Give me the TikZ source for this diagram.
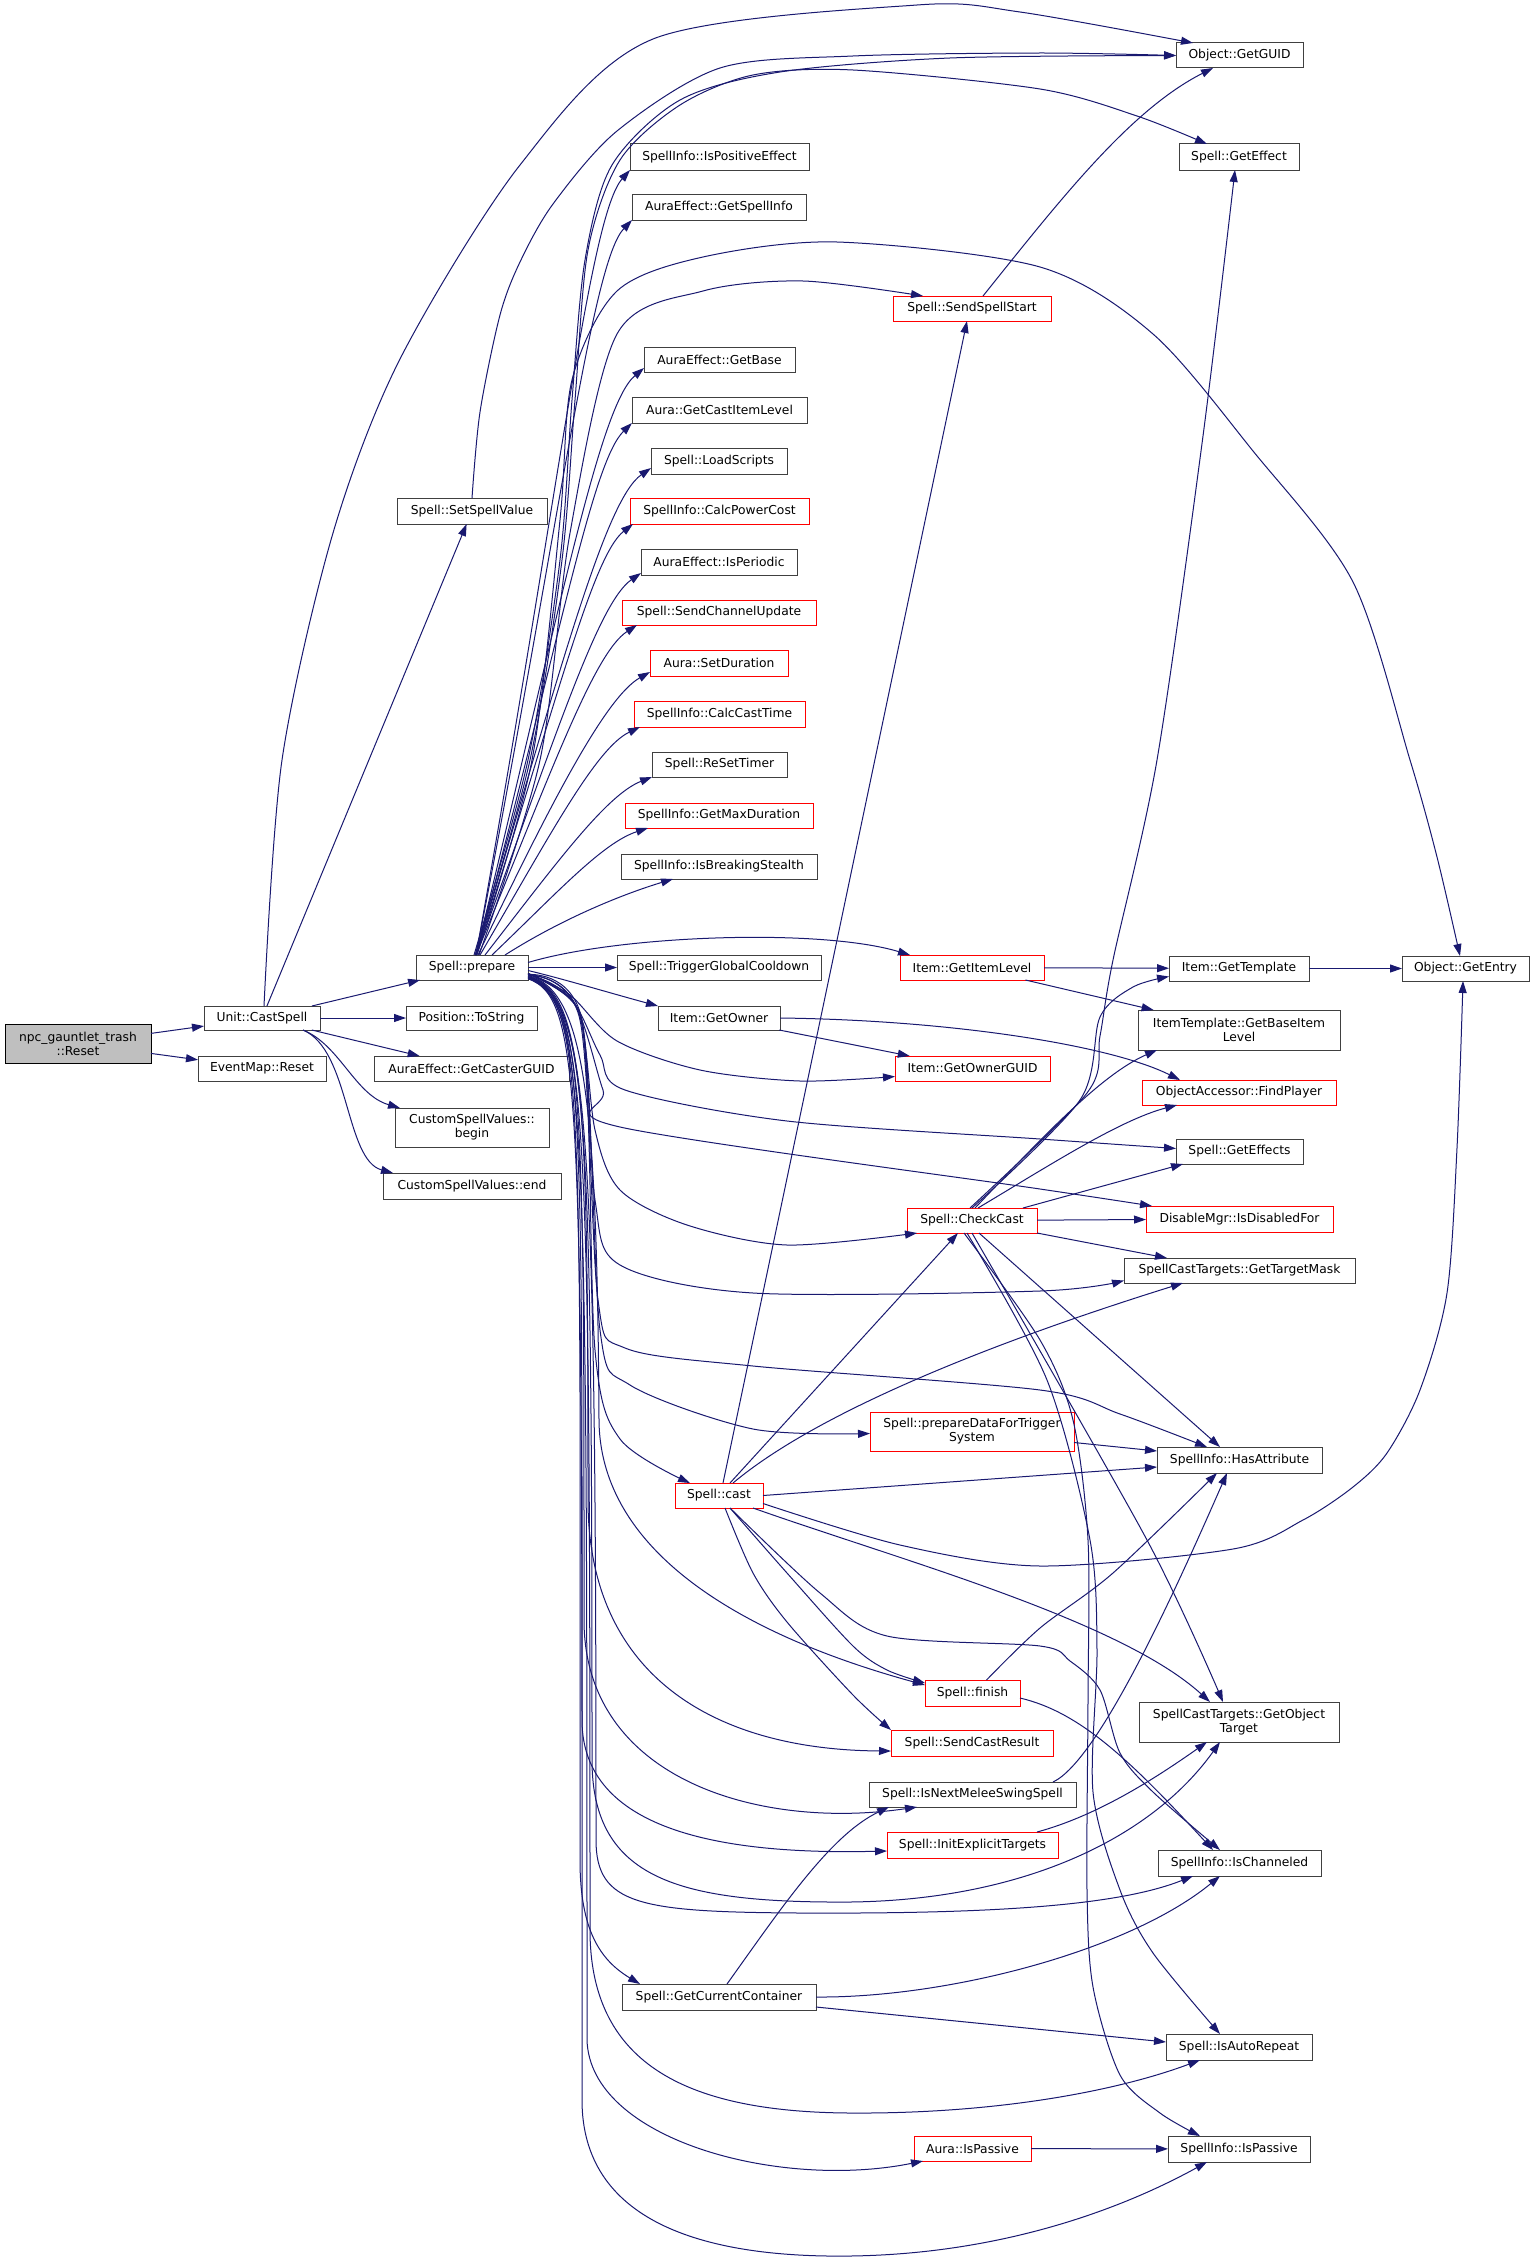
\documentclass[tikz,border=0pt]{standalone}
\usepackage{fontspec}
\setmainfont{DejaVu Sans}
\usetikzlibrary{arrows.meta}
\definecolor{edgeblue}{HTML}{191970}
\definecolor{boxgray}{HTML}{404040}
\definecolor{npcfill}{HTML}{BFBFBF}
\newcommand\gfs{\fontsize{12.3}{14}\selectfont}
\newcommand\gnode[7]{\node[#7, minimum width={(#4-#2)*1pt}, minimum height={(#5-#3)*1pt}] (#1) at ({(#2+#4)/2},{(#3+#5)/2}) {#6};}
\begin{document}
\begin{tikzpicture}[x=1pt,y=-1pt,
 box/.style={draw=boxgray, line width=1pt, fill=white, inner sep=0pt, outer sep=0pt, align=center, font=\gfs, text=black},
 rbox/.style={box, draw=red},
 gbox/.style={box, draw=black, fill=npcfill},
 edge/.style={draw=edgeblue, line width=1pt, -{Triangle[length=12pt,width=8pt]}}]
\fill[white] (0,0) rectangle (1535,2264);
\useasboundingbox (0,0) rectangle (1535,2264);

% nodes
\gnode{npc}{5}{1024}{151}{1063}{npc\_gauntlet\_trash\\::Reset}{gbox}
\gnode{ucs}{204}{1006}{320}{1030}{Unit::CastSpell}{box}
\gnode{emr}{198}{1056}{326}{1081}{EventMap::Reset}{box}
\gnode{prep}{416}{955}{528}{980}{Spell::prepare}{box}
\gnode{pts}{406}{1006}{537}{1030}{Position::ToString}{box}
\gnode{agcg}{374}{1056}{569}{1081}{AuraEffect::GetCasterGUID}{box}
\gnode{csvb}{395}{1108}{549}{1147}{CustomSpellValues::\\begin}{box}
\gnode{csve}{383}{1173}{561}{1199}{CustomSpellValues::end}{box}
\gnode{ssv}{397}{498}{547}{524}{Spell::SetSpellValue}{box}
\gnode{ipe}{630}{144}{809}{170}{SpellInfo::IsPositiveEffect}{box}
\gnode{agsi}{632}{194}{806}{220}{AuraEffect::GetSpellInfo}{box}
\gnode{sss}{893}{296}{1051}{321}{Spell::SendSpellStart}{rbox}
\gnode{agb}{644}{347}{795}{372}{AuraEffect::GetBase}{box}
\gnode{agcil}{632}{397}{807}{423}{Aura::GetCastItemLevel}{box}
\gnode{sls}{651}{448}{787}{474}{Spell::LoadScripts}{box}
\gnode{scpc}{630}{498}{809}{524}{SpellInfo::CalcPowerCost}{rbox}
\gnode{aip}{641}{549}{797}{575}{AuraEffect::IsPeriodic}{box}
\gnode{sscu}{622}{600}{816}{625}{Spell::SendChannelUpdate}{rbox}
\gnode{asd}{650}{650}{788}{676}{Aura::SetDuration}{rbox}
\gnode{scct}{634}{701}{805}{727}{SpellInfo::CalcCastTime}{rbox}
\gnode{srt}{652}{752}{787}{777}{Spell::ReSetTimer}{box}
\gnode{sgmd}{625}{803}{813}{828}{SpellInfo::GetMaxDuration}{rbox}
\gnode{sibs}{621}{854}{817}{879}{SpellInfo::IsBreakingStealth}{box}
\gnode{stgc}{617}{955}{821}{980}{Spell::TriggerGlobalCooldown}{box}
\gnode{igil}{900}{955}{1044}{980}{Item::GetItemLevel}{rbox}
\gnode{igo}{658}{1006}{780}{1030}{Item::GetOwner}{box}
\gnode{igog}{895}{1056}{1050}{1081}{Item::GetOwnerGUID}{rbox}
\gnode{scc}{907}{1208}{1037}{1233}{Spell::CheckCast}{rbox}
\gnode{spdt}{870}{1412}{1074}{1451}{Spell::prepareDataForTrigger\\System}{rbox}
\gnode{scast}{675}{1483}{763}{1508}{Spell::cast}{rbox}
\gnode{sfin}{925}{1680}{1020}{1706}{Spell::finish}{rbox}
\gnode{sscr}{891}{1730}{1053}{1756}{Spell::SendCastResult}{rbox}
\gnode{sinm}{869}{1782}{1076}{1807}{Spell::IsNextMeleeSwingSpell}{box}
\gnode{siet}{887}{1832}{1058}{1858}{Spell::InitExplicitTargets}{rbox}
\gnode{sgcc}{622}{1984}{816}{2010}{Spell::GetCurrentContainer}{box}
\gnode{aisp}{914}{2136}{1031}{2161}{Aura::IsPassive}{rbox}
\gnode{ogg}{1176}{43}{1303}{68}{Object::GetGUID}{box}
\gnode{sge}{1179}{144}{1299}{170}{Spell::GetEffect}{box}
\gnode{igt}{1169}{956}{1309}{981}{Item::GetTemplate}{box}
\gnode{oge}{1402}{956}{1529}{981}{Object::GetEntry}{box}
\gnode{itgb}{1138}{1010}{1340}{1050}{ItemTemplate::GetBaseItem\\Level}{box}
\gnode{oafp}{1142}{1080}{1336}{1105}{ObjectAccessor::FindPlayer}{rbox}
\gnode{sges}{1176}{1139}{1303}{1164}{Spell::GetEffects}{box}
\gnode{dmid}{1146}{1206}{1333}{1232}{DisableMgr::IsDisabledFor}{rbox}
\gnode{sctm}{1124}{1258}{1355}{1283}{SpellCastTargets::GetTargetMask}{box}
\gnode{siha}{1157}{1447}{1322}{1473}{SpellInfo::HasAttribute}{box}
\gnode{scgo}{1139}{1702}{1339}{1742}{SpellCastTargets::GetObject\\Target}{box}
\gnode{sich}{1158}{1850}{1321}{1876}{SpellInfo::IsChanneled}{box}
\gnode{siar}{1166}{2034}{1312}{2060}{Spell::IsAutoRepeat}{box}
\gnode{sisp}{1168}{2136}{1310}{2162}{SpellInfo::IsPassive}{box}

% npc and CastSpell
\draw[edge] (npc) -- (ucs);
\draw[edge] (npc) -- (emr);
\draw[edge] (ucs) -- (prep);
\draw[edge] (ucs) -- (pts);
\draw[edge] (ucs) -- (agcg);
\draw[edge] ([xshift=-17pt]ucs.south east) .. controls (340,1045) and (355,1095) .. ([xshift=5pt]csvb.north west);
\draw[edge] ([xshift=-17pt]ucs.south east) .. controls (350,1050) and (345,1160) .. ([xshift=10pt]csve.north west);
\draw[edge] (ucs) -- (ssv);
\draw[edge] plot[smooth] coordinates {([xshift=2pt]ucs.north) (282,760) (333,533) (400,359) (520,165) (653,39) (917,5) (1020,12) ([xshift=17pt]ogg.north west)};
\draw[edge] plot[smooth] coordinates {(ssv.north) (480,412) (500,315) (520,262) (553,204) (617,131) (720,68) (853,56) (1040,53) (ogg.west)};

% prepare upward
\draw[edge] plot[smooth] coordinates {([xshift=2pt]prep.north) (528,760) (560,560) (572,400) (585,260) (612,165) (680,100) (780,72) (950,58) (ogg.west)};
\draw[edge] plot[smooth] coordinates {([xshift=3pt]prep.north) (530,760) (562,560) (575,400) (588,250) (620,160) (680,105) (753,75) (853,70) (1040,89) (1137,116) ([xshift=28pt]sge.north west)};
\draw[edge] plot[smooth] coordinates {([xshift=5pt]prep.north) (532,760) (560,520) (572,380) (617,291) (703,257) (837,242) (1040,267) (1153,334) (1253,451) (1353,582) (1410,760) (1437,857) ([xshift=58pt]oge.north west)};
\draw[edge] plot[smooth] coordinates {([xshift=7pt]prep.north) (540,760) (570,533) (617,334) (703,291) (803,281) ([xshift=30pt]sss.north west)};
\draw[edge] ([xshift=4pt]prep.north) .. controls (561,480) and (590,215) .. (ipe.south west);
\draw[edge] ([xshift=4pt]prep.north) .. controls (562,510) and (592,262) .. (agsi.south west);
\draw[edge] ([xshift=4pt]prep.north) .. controls (562,600) and (600,405) .. ([yshift=4pt]agb.south west);
\draw[edge] ([xshift=4pt]prep.north) .. controls (560,640) and (592,462) .. (agcil.south west);
\draw[edge] ([xshift=4pt]prep.north) .. controls (560,670) and (605,500) .. ([yshift=6pt]sls.south west);
\draw[edge] ([xshift=4pt]prep.north) .. controls (556,705) and (592,556) .. ([xshift=3pt]scpc.south west);
\draw[edge] ([xshift=4pt]prep.north) .. controls (556,735) and (598,603) .. ([yshift=2pt]aip.south west);
\draw[edge] ([xshift=4pt]prep.north) .. controls (552,770) and (594,653) .. ([xshift=15pt]sscu.south west);
\draw[edge] ([xshift=6pt]prep.north) .. controls (552,800) and (606,697) .. ([yshift=4pt]asd.south west);
\draw[edge] ([xshift=8pt]prep.north) .. controls (550,835) and (596,748) .. ([xshift=6pt]scct.south west);
\draw[edge] ([xshift=13pt]prep.north) .. controls (555,865) and (606,795) .. (srt.south west);
\draw[edge] ([xshift=20pt]prep.north) .. controls (555,895) and (602,843) .. ([xshift=23pt]sgmd.south west);
\draw[edge] ([xshift=33pt]prep.north) .. controls (560,920) and (620,895) .. ([xshift=52pt]sibs.south west);

% prepare rightward
\draw[edge] (prep) -- (stgc);
\draw[edge] ([yshift=5pt]prep.east) .. controls (620,935) and (820,928) .. ([xshift=10pt]igil.north west);
\draw[edge] ([yshift=-3pt]prep.east) .. controls (560,978) and (610,993) .. (igo.north west);

% prepare bundle downward (upper part)
\draw[edge] plot[smooth] coordinates {([yshift=-6pt]prep.east) (570,995) (617,1041) (700,1070) (800,1081) ([yshift=-8pt]igog.west)};
\draw[edge] plot[smooth] coordinates {([yshift=-6pt]prep.east) (572,1000) (600,1055) (625,1090) (787,1121) (1040,1139) ([yshift=3pt]sges.west)};
\draw[edge] plot[smooth] coordinates {([yshift=-6pt]prep.east) (575,1005) (603,1090) (620,1127) (1040,1189) ([xshift=6pt]dmid.north west)};
\draw[edge] plot[smooth] coordinates {([yshift=-6pt]prep.east) (578,1010) (595,1130) (620,1190) (687,1225) (787,1245) ([xshift=10pt]scc.south west)};
\draw[edge] plot[smooth] coordinates {([yshift=-7pt]prep.east) (580,1015) (595,1200) (620,1265) (753,1293) (1040,1291) ([yshift=-10pt]sctm.west)};
\draw[edge] plot[smooth] coordinates {([yshift=-7pt]prep.east) (580,1020) (598,1300) (625,1348) (753,1366) (1040,1390) (1120,1414) ([xshift=50pt]siha.north west)};
\draw[edge] plot[smooth] coordinates {([yshift=-7pt]prep.east) (582,1020) (600,1330) (630,1385) (753,1429) ([yshift=-2pt]spdt.west)};
\draw[edge] plot[smooth] coordinates {([yshift=-8pt]prep.east) (582,1025) (595,1350) (620,1439) ([xshift=15pt]scast.north west)};

% prepare bundle downward (lower part)
\draw[edge] ([yshift=-8pt]prep.east) .. controls (585,990) and (597,1100) .. (599,1420) .. controls (600,1560) and (760,1640) .. ([yshift=8pt]sfin.west);
\draw[edge] ([yshift=-9pt]prep.east) .. controls (585,990) and (588,1100) .. (588,1500) .. controls (588,1680) and (720,1750) .. ([yshift=-8pt]sscr.west);
\draw[edge] ([yshift=-9pt]prep.east) .. controls (585,992) and (584,1100) .. (584,1620) .. controls (584,1780) and (760,1830) .. ([xshift=48pt]sinm.south west);
\draw[edge] ([yshift=-9pt]prep.east) .. controls (585,994) and (582,1100) .. (582,1720) .. controls (582,1830) and (720,1855) .. ([yshift=-6pt]siet.west);
\draw[edge] ([yshift=-10pt]prep.east) .. controls (588,996) and (592,1100) .. (592,1760) .. controls (592,1880) and (680,1903) .. (850,1902) .. controls (1020,1900) and (1150,1840) .. ([xshift=81pt]scgo.south west);
\draw[edge] ([yshift=-10pt]prep.east) .. controls (588,998) and (596,1100) .. (596,1840) .. controls (596,1905) and (640,1912) .. (800,1913) .. controls (1000,1914) and (1120,1905) .. ([xshift=35pt]sich.south west);
\draw[edge] ([yshift=-10pt]prep.east) .. controls (586,998) and (580,1100) .. (580,1860) .. controls (580,1930) and (600,1960) .. ([xshift=18pt]sgcc.north west);
\draw[edge] ([yshift=-11pt]prep.east) .. controls (588,1000) and (590,1100) .. (590,1930) .. controls (590,2060) and (680,2112) .. (850,2113) .. controls (1000,2114) and (1120,2090) .. ([xshift=34pt]siar.south west);
\draw[edge] ([yshift=-11pt]prep.east) .. controls (587,1000) and (587,1100) .. (587,2040) .. controls (590,2140) and (780,2190) .. ([xshift=9pt]aisp.south west);
\draw[edge] ([yshift=-11pt]prep.east) .. controls (585,1000) and (582,1100) .. (582,2100) .. controls (582,2220) and (700,2258) .. (850,2256) .. controls (1000,2254) and (1120,2210) .. ([xshift=39pt]sisp.south west);

% SendSpellStart
\draw[edge] ([xshift=11pt]sss.north) .. controls (1060,200) and (1130,110) .. ([xshift=37pt]ogg.south west);
% Item
\draw[edge] (igil) -- (igt);
\draw[edge] (igil) -- (itgb);
\draw[edge] (igt) -- (oge);
\draw[edge] (igo) -- (igog);
\draw[edge] (igo.east) .. controls (950,1020) and (1110,1045) .. ([xshift=38pt]oafp.north west);

% CheckCast
\draw[edge] plot[smooth] coordinates {([xshift=-2pt]scc.north) (1087,1093) (1100,1036) (1113,960) (1157,760) (1203,436) ([xshift=56pt]sge.south west)};
\draw[edge] plot[smooth] coordinates {(scc.north) (1080,1100) (1100,1017) (1133,987) ([yshift=-8pt]igt.west)};
\draw[edge] ([xshift=3pt]scc.north) .. controls (1040,1140) and (1100,1075) .. ([xshift=19pt]itgb.south west);
\draw[edge] ([xshift=6pt]scc.north) .. controls (1050,1165) and (1120,1120) .. ([xshift=35pt]oafp.south west);
\draw[edge] ([xshift=-14pt]scc.north east) -- ([xshift=7pt]sges.south west);
\draw[edge] (scc) -- (dmid);
\draw[edge] (scc.south east) -- ([xshift=43pt]sctm.north west);
\draw[edge] ([xshift=7pt]scc.south) -- ([xshift=63pt]siha.north west);
\draw[edge] plot[smooth] coordinates {(scc.south) (1147,1540) ([xshift=84pt]scgo.north west)};
\draw[edge] plot[smooth] coordinates {([xshift=-5pt]scc.south) (1047,1380) (1090,1540) (1097,1650) (1093,1792) (1120,1890) (1153,1953) ([xshift=54pt]siar.north west)};
\draw[edge] plot[smooth] coordinates {([xshift=-8pt]scc.south) (1040,1340) (1073,1420) (1088,1540) (1088,1700) (1087,1890) (1093,1987) (1120,2075) (1160,2113) ([xshift=32pt]sisp.north west)};

% cast
\draw[edge] ([xshift=4pt]scast.north) -- ([xshift=74pt]sss.south west);
\draw[edge] ([xshift=11pt]scast.north) -- ([xshift=51pt]scc.south west);
\draw[edge] ([xshift=14pt]scast.north) .. controls (820,1410) and (1000,1340) .. ([xshift=59pt]sctm.south west);
\draw[edge] (scast.east) -- ([yshift=-7pt]siha.west);
\draw[edge] plot[smooth] coordinates {([yshift=-8pt]scast.east) (900,1545) (1040,1566) (1233,1549) (1303,1520) (1353,1487) (1387,1453) (1420,1390) (1447,1293) (1457,1148) ([xshift=61pt]oge.south west)};
\draw[edge] ([xshift=34pt]scast.south) .. controls (900,1560) and (1120,1620) .. ([xshift=71pt]scgo.north west);
\draw[edge] plot[smooth] coordinates {([xshift=11pt]scast.south) (820,1593) (887,1636) (1040,1646) (1070,1661) (1100,1690) (1120,1753) (1153,1792) ([xshift=62pt]sich.north west)};
\draw[edge] plot[smooth] coordinates {([xshift=11pt]scast.south) (787,1573) (853,1646) (887,1670) ([yshift=10pt]sfin.west)};
\draw[edge] plot[smooth] coordinates {([xshift=6pt]scast.south) (753,1573) (787,1622) (853,1695) (sscr.north west)};

% others
\draw[edge] ([yshift=-11pt]spdt.east) -- ([yshift=9pt]siha.west);
\draw[edge] plot[smooth] coordinates {([xshift=14pt]sfin.north) (1040,1628) (1113,1573) ([xshift=60pt]siha.south west)};
\draw[edge] ([yshift=-5pt]sfin.east) .. controls (1080,1712) and (1130,1760) .. ([xshift=55pt]sich.north west);
\draw[edge] ([xshift=-23pt]sinm.north east) .. controls (1100,1760) and (1180,1580) .. ([xshift=70pt]siha.south west);
\draw[edge] ([xshift=-21pt]siet.north east) .. controls (1100,1815) and (1160,1775) .. ([xshift=68pt]scgo.south west);
\draw[edge] ([xshift=8pt]sgcc.north) .. controls (780,1910) and (830,1835) .. ([xshift=20pt]sinm.south west);
\draw[edge] (sgcc.east) .. controls (950,1998) and (1130,1950) .. ([xshift=62pt]sich.south west);
\draw[edge] ([yshift=-10pt]sgcc.east) -- ([yshift=5pt]siar.west);
\draw[edge] (aisp) -- (sisp);
\end{tikzpicture}
\end{document}
